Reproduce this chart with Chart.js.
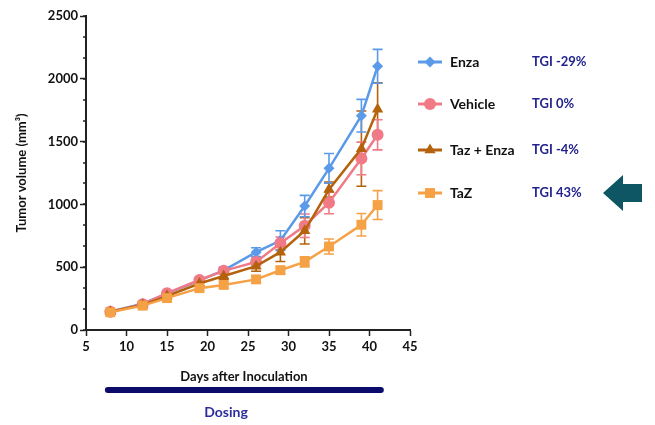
<!DOCTYPE html>
<html>
<head>
<meta charset="utf-8">
<script src="https://cdn.jsdelivr.net/npm/chart.js@4.4.1/dist/chart.umd.min.js"></script>
<style>
  html, body { margin: 0; padding: 0; background: #fff; }
  #wrap { width: 655px; height: 425px; position: relative; }
</style>
</head>
<body>
<div id="wrap"><canvas id="tumorChart" width="655" height="425"></canvas></div>
<script>
// data
const days = [8, 12, 15, 19, 22, 26, 29, 32, 35, 39, 41];

const enza       = [145, 210, 290, 395, 475, 620, 712, 987, 1287, 1706, 2099];
const enzaErr    = [15, 15, 20, 20, 25, 35, 78, 85, 118, 130, 135];
const vehicle    = [145, 205, 293, 398, 471, 542, 691, 830, 1013, 1366, 1554];
const vehicleErr = [15, 15, 20, 20, 25, 30, 50, 93, 87, 130, 120];
const tazEnza    = [145, 200, 270, 370, 430, 508, 620, 790, 1118, 1444, 1758];
const tazEnzaErr = [15, 15, 20, 20, 25, 40, 75, 105, 60, 300, 210];
const taz        = [141, 194, 254, 333, 359, 403, 476, 542, 665, 838, 995];
const tazErr     = [15, 15, 20, 20, 25, 25, 30, 40, 60, 90, 115];

const seriesNames = ['Enza', 'Vehicle', 'Taz + Enza', 'TaZ'];
const tgiLabels = ['TGI -29%', 'TGI 0%', 'TGI -4%', 'TGI 43%'];
const xTicks = [5, 10, 15, 20, 25, 30, 35, 40, 45];
const yTicks = [0, 500, 1000, 1500, 2000, 2500];
const dosingStart = 7.7;
const dosingEnd = 41.4;

const FONT = 'Lato, "Open Sans", sans-serif';

function pts(ys) {
    return days.map((d, i) => ({ x: d, y: ys[i] }));
}

// error bars drawn from the scales
const errorBars = {
    id: 'errorBars',
    beforeDatasetsDraw(chart) {
        const { ctx, scales: { x, y } } = chart;
        chart.data.datasets.forEach(ds => {
            ctx.save();
            ctx.strokeStyle = ds.borderColor;
            ctx.lineWidth = 1.6;
            ds.data.forEach((p, i) => {
                const e = ds.errors[i];
                const px = x.getPixelForValue(p.x);
                const top = y.getPixelForValue(p.y + e);
                const bot = y.getPixelForValue(p.y - e);
                ctx.beginPath();
                ctx.moveTo(px, top); ctx.lineTo(px, bot);
                ctx.moveTo(px - 5, top); ctx.lineTo(px + 5, top);
                ctx.moveTo(px - 5, bot); ctx.lineTo(px + 5, bot);
                ctx.stroke();
            });
            ctx.restore();
        });
    }
};

// minor y ticks, legend, dosing bar, arrow
const extras = {
    id: 'extras',
    afterDraw(chart) {
        const { ctx, scales: { x, y } } = chart;
        ctx.save();

        // minor ticks on y axis
        ctx.strokeStyle = '#222';
        ctx.lineWidth = 1.5;
        for (let v = 0; v <= 2500; v += 500 / 3) {
            const py = Math.round(y.getPixelForValue(v));
            ctx.beginPath();
            ctx.moveTo(x.left - 3, py);
            ctx.lineTo(x.left, py);
            ctx.stroke();
        }

        // x title
        ctx.fillStyle = '#111';
        ctx.font = 'bold 13px ' + FONT;
        ctx.textAlign = 'center';
        ctx.textBaseline = 'middle';
        ctx.fillText('Days after Inoculation', (x.left + x.right) / 2 - 4, 377);

        // dosing bar
        const x1 = x.getPixelForValue(dosingStart);
        const x2 = x.getPixelForValue(dosingEnd);
        ctx.strokeStyle = '#0b0b6b';
        ctx.lineWidth = 6;
        ctx.lineCap = 'round';
        ctx.beginPath();
        ctx.moveTo(x1, 390);
        ctx.lineTo(x2, 390);
        ctx.stroke();
        ctx.fillStyle = '#2d2d9c';
        ctx.font = 'bold 14px ' + FONT;
        ctx.fillText('Dosing', 226, 412);

        // legend, in the reference's order
        const rows = [62, 104, 150, 193];
        chart.data.datasets.forEach(ds => {
            const i = seriesNames.indexOf(ds.label);
            const ly = rows[i];
            ctx.strokeStyle = ds.borderColor;
            ctx.lineWidth = 3;
            ctx.lineCap = 'butt';
            ctx.beginPath();
            ctx.moveTo(418, ly);
            ctx.lineTo(442, ly);
            ctx.stroke();
            ctx.fillStyle = ds.backgroundColor;
            Chart.helpers.drawPoint(ctx, {
                pointStyle: ds.pointStyle,
                radius: ds.pointRadius,
                borderWidth: 0
            }, 430, ly);
            ctx.fillStyle = '#111';
            ctx.font = 'bold 14px ' + FONT;
            ctx.textAlign = 'left';
            ctx.fillText(ds.label, 450, ly);
            ctx.fillStyle = '#23238e';
            ctx.font = 'bold 13px ' + FONT;
            ctx.fillText(tgiLabels[i], 532, ly);
        });

        // arrow pointing at TaZ
        ctx.fillStyle = '#0e5663';
        ctx.beginPath();
        ctx.moveTo(603, 193);
        ctx.lineTo(623, 175);
        ctx.lineTo(623, 184);
        ctx.lineTo(642, 184);
        ctx.lineTo(642, 202);
        ctx.lineTo(623, 202);
        ctx.lineTo(623, 211);
        ctx.closePath();
        ctx.fill();

        ctx.restore();
    }
};

function series(label, ys, errs, color, style, r) {
    return {
        label: label,
        data: pts(ys),
        errors: errs,
        borderColor: color,
        backgroundColor: color,
        borderWidth: 2.5,
        pointStyle: style,
        pointRadius: r,
        pointBorderWidth: 0,
        tension: 0
    };
}

const ctx = document.getElementById('tumorChart').getContext('2d');

new Chart(ctx, {
    type: 'line',
    data: {
        datasets: [
            series(seriesNames[3], taz, tazErr, '#f5a145', 'rect', 7),
            series(seriesNames[2], tazEnza, tazEnzaErr, '#b5620d', 'triangle', 6.5),
            series(seriesNames[1], vehicle, vehicleErr, '#f07a86', 'circle', 6),
            series(seriesNames[0], enza, enzaErr, '#5b9ae8', 'rectRot', 5.5)
        ]
    },
    options: {
        responsive: false,
        animation: false,
        layout: { padding: { left: 0, right: 245, top: 16, bottom: 0 } },
        plugins: {
            legend: { display: false },
            tooltip: { enabled: false }
        },
        scales: {
            x: {
                type: 'linear',
                min: 5,
                max: 45,
                afterBuildTicks: s => { s.ticks = xTicks.map(v => ({ value: v })); },
                afterFit: s => { s.height = 95; },
                grid: { drawOnChartArea: false, tickLength: 6, tickWidth: 1.5, tickColor: '#222' },
                border: { color: '#222', width: 2 },
                ticks: { color: '#111', padding: 3, font: { family: FONT, size: 13, weight: 'bold' } }
            },
            y: {
                min: 0,
                max: 2500,
                afterBuildTicks: s => { s.ticks = yTicks.map(v => ({ value: v })); },
                afterFit: s => { s.width = 86; },
                grid: { drawOnChartArea: false, tickLength: 6, tickWidth: 1.5, tickColor: '#222' },
                border: { color: '#222', width: 2 },
                ticks: {
                    color: '#111',
                    padding: 2,
                    font: { family: FONT, size: 13, weight: 'bold' },
                    callback: v => String(v)
                },
                title: {
                    display: true,
                    text: 'Tumor volume (mm³)',
                    color: '#111',
                    padding: { top: 14, bottom: 0 },
                    font: { family: FONT, size: 13, weight: 'bold' }
                }
            }
        }
    },
    plugins: [errorBars, extras]
});
</script>
</body>
</html>
